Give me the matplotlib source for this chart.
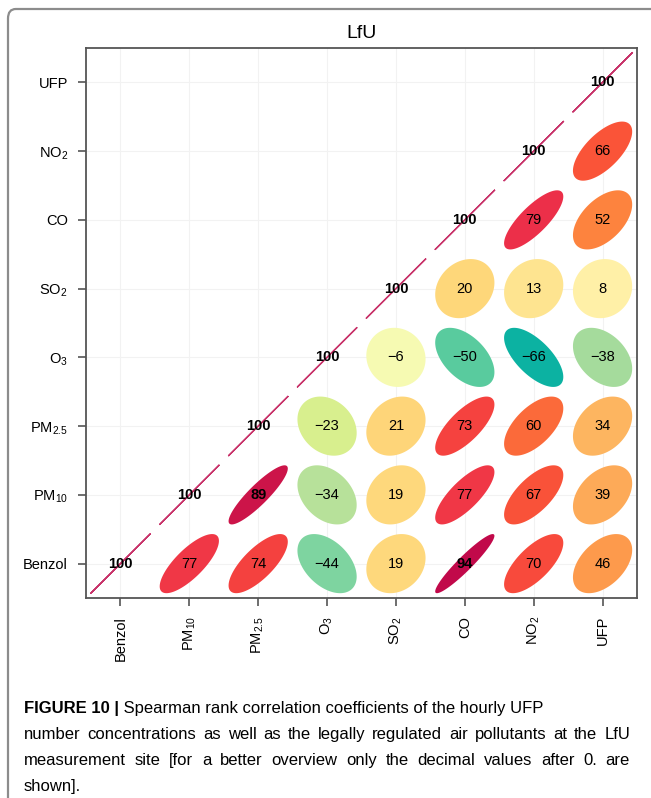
import numpy as np
import matplotlib
matplotlib.use("Agg")
import matplotlib.pyplot as plt
from matplotlib.patches import Polygon, FancyBboxPatch
from matplotlib.colors import LinearSegmentedColormap

# ---------------- data ----------------
variables = ["Benzol", "PM$_{10}$", "PM$_{2.5}$", "O$_3$", "SO$_2$", "CO", "NO$_2$", "UFP"]
# Spearman coefficients (x100) of each variable with the variables listed after it
row_benzol = [77, 74, -44, 19, 94, 70, 46]
row_pm10 = [89, -34, 19, 77, 67, 39]
row_pm25 = [-23, 21, 73, 60, 34]
row_o3 = [-6, -50, -66, -38]
row_so2 = [20, 13, 8]
row_co = [79, 52]
row_no2 = [66]
diag_value = 100
title = "LfU"
caption_bold = "FIGURE 10 |"
caption_lines = [
    " Spearman rank correlation coefficients of the hourly UFP",
    "number concentrations as well as the legally regulated air pollutants at the LfU",
    "measurement site [for a better overview only the decimal values after 0. are",
    "shown].",
]
rows = [row_benzol, row_pm10, row_pm25, row_o3, row_so2, row_co, row_no2]

# ---------------- style ----------------
plt.rcParams['font.family'] = ['Liberation Sans', 'DejaVu Sans']
plt.rcParams['mathtext.fontset'] = 'custom'
plt.rcParams['mathtext.rm'] = 'Liberation Sans'
plt.rcParams['mathtext.it'] = 'Liberation Sans:italic'
plt.rcParams['mathtext.bf'] = 'Liberation Sans:bold'

anchors = [(-1.0, '#007E96'), (-0.66, '#0CB2A2'), (-0.50, '#58CB9E'), (-0.44, '#80D4A0'),
           (-0.38, '#A5DB9C'), (-0.34, '#B8E19A'), (-0.23, '#D8EF8E'), (-0.06, '#F6FAB2'),
           (0.08, '#FFF1A8'), (0.13, '#FEE490'), (0.20, '#FED77A'), (0.34, '#FDB560'),
           (0.39, '#FDAA58'), (0.46, '#FD9A4C'), (0.52, '#FD843E'), (0.60, '#FB6A3A'),
           (0.66, '#FA5538'), (0.70, '#F84A3C'), (0.74, '#F4413F'), (0.79, '#EE3149'),
           (0.89, '#CC1449'), (0.94, '#C20A4A'), (1.0, '#B5004A')]
cmap = LinearSegmentedColormap.from_list('corr', [((v + 1) / 2, c) for v, c in anchors])

W, H = 651, 798
fig = plt.figure(figsize=(W / 100, H / 100), dpi=100)
fig.patch.set_facecolor('white')

# rounded frame (cropped at right/bottom as in the reference)
frame = FancyBboxPatch((8 / W, -0.2), 1.3, 1 - 9 / H + 0.2,
                       boxstyle='round,pad=0,rounding_size=0.012',
                       transform=fig.transFigure, fill=False,
                       edgecolor='#8C8C8C', lw=1.6)
fig.add_artist(frame)

ax = fig.add_axes([86 / W, 1 - 598 / H, 551 / W, 550 / H])
n = len(variables)
ax.set_xlim(0.5, n + 0.5)
ax.set_ylim(0.5, n + 0.5)
ax.set_axisbelow(True)
ax.grid(color='#F2F2F2', lw=0.8)
pos = np.arange(1, n + 1)
ax.set_xticks(pos)
ax.set_yticks(pos)
ax.set_xticklabels(variables, rotation=90, fontsize=10.5)
ax.set_yticklabels(variables, fontsize=10.5)
ax.tick_params(length=6, width=1.2, color='#555555', pad=7)
for s in ax.spines.values():
    s.set_color('#555555')
    s.set_linewidth(1.3)

t = 0.43
a = np.linspace(0, 2 * np.pi, 120)


def ellipse_pts(r, cx, cy):
    d = np.arccos(np.clip(r, -1, 1))
    return np.column_stack([t * np.cos(a + d / 2) + cx, t * np.cos(a - d / 2) + cy])


# diagonal
for k in range(n):
    pts = ellipse_pts(1.0, pos[k], pos[k])
    ax.plot(pts[:, 0], pts[:, 1], color='#C8336A', lw=1.0, zorder=2)
    ax.text(pos[k], pos[k], str(diag_value), ha='center', va='center',
            fontsize=10.5, fontweight='bold', zorder=4)

# off-diagonal ellipses
for i, row in enumerate(rows):
    for m, v in enumerate(row):
        j = i + 1 + m
        r = v / 100.0
        pts = ellipse_pts(r, pos[j], pos[i])
        ax.add_patch(Polygon(pts, closed=True, facecolor=cmap((r + 1) / 2),
                             edgecolor='none', zorder=3))
        label = str(v).replace('-', '\u2212')
        ax.text(pos[j], pos[i], label, ha='center', va='center', fontsize=10.5,
                fontweight='bold' if abs(v) >= 85 else 'normal', zorder=4)

fig.text(361.5 / W, 1 - 33 / H, title, ha='center', va='center', fontsize=14)

# caption
cap_family = ['Liberation Sans', 'DejaVu Sans']
cap_size = 12
x0, x1 = 24, 630
baselines = [713, 739, 765, 791]
renderer = fig.canvas.get_renderer()


def px_width(txt, **kw):
    tt = fig.text(0, 0, txt, fontsize=cap_size, family=cap_family, **kw)
    w = tt.get_window_extent(renderer).width
    tt.remove()
    return w


for li, line in enumerate(caption_lines):
    yb = 1 - baselines[li] / H
    if li == 0:
        fig.text(x0 / W, yb, caption_bold, fontsize=cap_size, family=cap_family,
                 fontweight='bold', va='baseline')
        wb = px_width(caption_bold, fontweight='bold')
        fig.text((x0 + wb) / W, yb, line, fontsize=cap_size, family=cap_family,
                 va='baseline')
    elif li in (1, 2):
        words = line.split(' ')
        widths = [px_width(w_) for w_ in words]
        gap = (x1 - x0 - sum(widths)) / (len(words) - 1)
        x = x0
        for w_, wd in zip(words, widths):
            fig.text(x / W, yb, w_, fontsize=cap_size, family=cap_family, va='baseline')
            x += wd + gap
    else:
        fig.text(x0 / W, yb, line, fontsize=cap_size, family=cap_family, va='baseline')

fig.savefig('out.png', dpi=100)
